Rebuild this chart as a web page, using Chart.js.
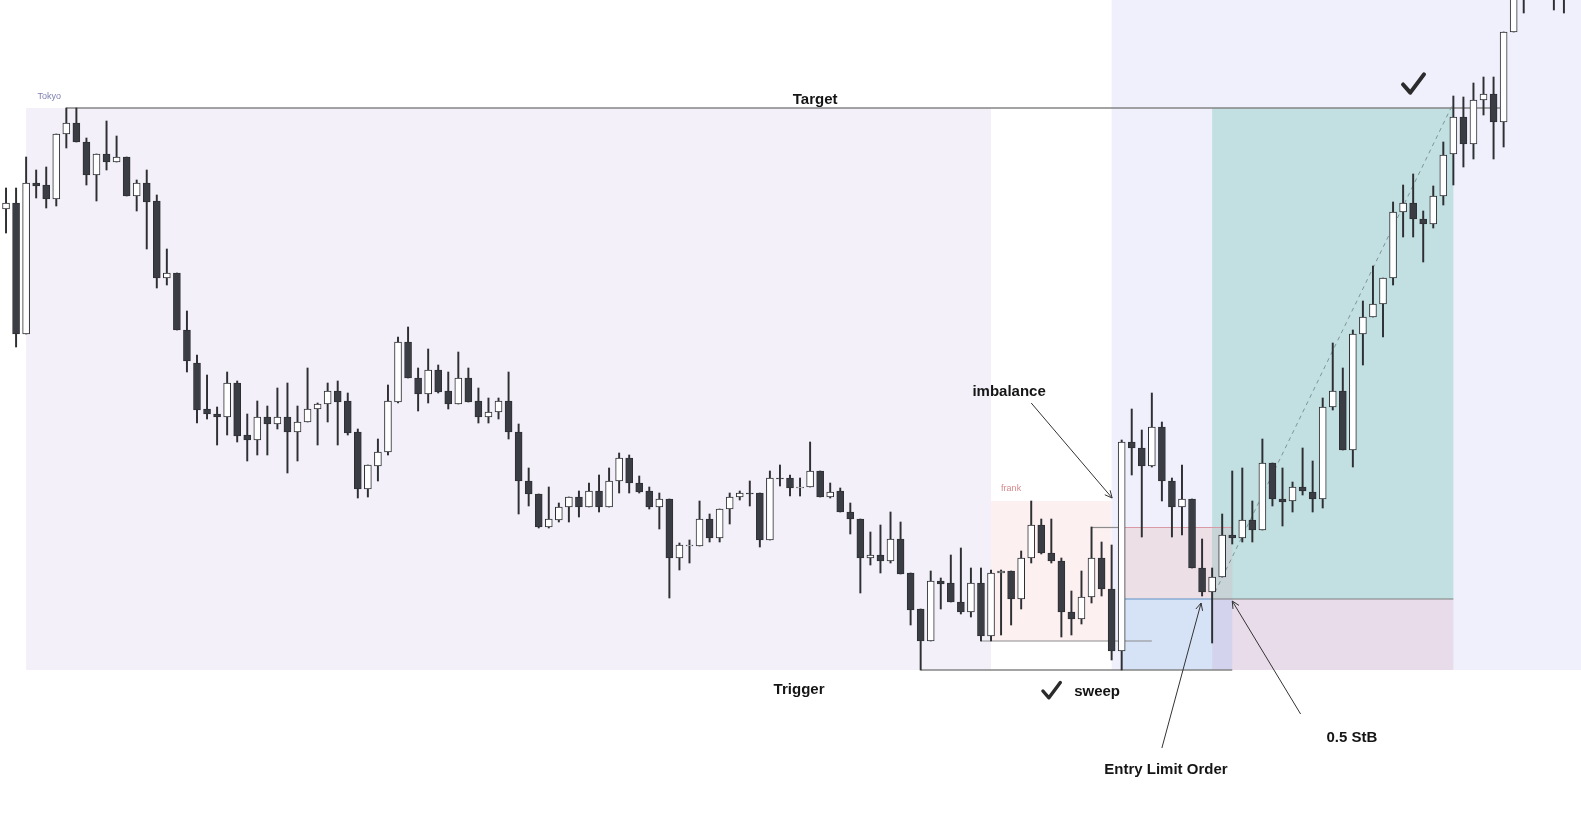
<!DOCTYPE html>
<html>
<head>
<meta charset="utf-8">
<script src="https://cdn.jsdelivr.net/npm/chart.js@4.4.0/dist/chart.umd.min.js"></script>
<style>
  html, body { margin: 0; padding: 0; background: #fff; }
  #wrap { width: 1581px; height: 824px; position: relative; }
</style>
</head>
<body>
<div id="wrap"><canvas id="myChart"></canvas></div>
<script>
// candles, in price points (one candle per slot)
const opens = [
  791, 797, 666, 817, 815, 801, 866, 877, 858, 825, 846, 838, 843, 804, 817, 799, 722, 727, 670, 637,
  591, 586, 583, 617, 565, 560, 583, 576, 583, 568, 578, 591, 596, 609, 599, 568, 511, 534, 548, 598,
  658, 622, 606, 630, 609, 596, 622, 599, 583, 588, 599, 568, 519, 506, 473, 480, 493, 503, 493, 509,
  493, 519, 542, 517, 509, 493, 501, 442, 454, 454, 481, 462, 491, 503, 507, 507, 460, 522, 522, 512,
  513, 529, 503, 509, 488, 481, 442, 445, 439, 461, 427, 391, 359, 419, 417, 398, 388, 417, 364, 427,
  429, 401, 442, 475, 447, 439, 388, 381, 403, 442, 411, 349, 558, 552, 534, 573, 519, 493, 501, 432,
  408, 423, 465, 462, 480, 470, 537, 501, 499, 513, 508, 501, 593, 609, 550, 666, 683, 696, 722, 788,
  797, 781, 776, 804, 846, 883, 856, 900, 906, 878, 968, 1010, 1040, 1060, 1040, 1012
]
const highs = [
  812, 812, 843, 830, 833, 866, 892, 892, 862, 846, 879, 864, 843, 820, 830, 805, 751, 727, 689, 645,
  625, 593, 628, 619, 586, 599, 594, 612, 617, 594, 632, 597, 617, 619, 607, 571, 535, 561, 615, 663,
  673, 632, 651, 635, 628, 648, 632, 612, 602, 602, 628, 576, 532, 506, 513, 497, 503, 509, 517, 525,
  532, 547, 545, 524, 513, 507, 501, 457, 460, 499, 486, 491, 507, 509, 519, 507, 529, 535, 525, 522,
  558, 529, 517, 512, 497, 481, 468, 475, 488, 478, 427, 391, 429, 422, 445, 452, 432, 432, 430, 430,
  429, 449, 499, 481, 481, 442, 409, 429, 473, 458, 455, 560, 591, 570, 607, 578, 522, 535, 501, 461,
  432, 486, 529, 532, 499, 561, 537, 532, 518, 552, 539, 602, 657, 632, 670, 699, 734, 722, 798, 815,
  826, 789, 814, 858, 904, 903, 917, 923, 923, 968, 1020, 1040, 1080, 1070, 1050, 1045
]
const lows = [
  767, 653, 666, 802, 792, 794, 852, 858, 815, 799, 830, 838, 804, 789, 751, 712, 715, 670, 628, 577,
  581, 555, 565, 558, 539, 545, 545, 571, 527, 539, 578, 555, 578, 555, 565, 502, 503, 519, 545, 597,
  622, 589, 597, 607, 591, 596, 598, 577, 577, 581, 561, 486, 494, 472, 472, 478, 478, 483, 493, 488,
  493, 507, 507, 507, 491, 471, 402, 430, 437, 454, 458, 458, 476, 500, 494, 453, 460, 514, 504, 504,
  513, 503, 502, 488, 466, 407, 435, 427, 437, 426, 375, 330, 359, 391, 398, 386, 383, 359, 359, 365,
  375, 391, 437, 446, 437, 363, 365, 376, 397, 404, 340, 330, 525, 463, 533, 499, 463, 465, 432, 404,
  357, 423, 456, 458, 458, 470, 494, 474, 488, 505, 488, 492, 590, 550, 533, 635, 683, 663, 715, 763,
  763, 738, 772, 795, 815, 833, 841, 885, 841, 853, 968, 987, 1025, 1020, 990, 987
]
const closes = [
  797, 666, 817, 814, 801, 866, 877, 858, 825, 846, 838, 843, 804, 817, 798, 722, 727, 670, 639, 590,
  586, 583, 617, 564, 560, 583, 576, 583, 568, 578, 591, 596, 609, 598, 567, 511, 535, 548, 599, 658,
  622, 606, 630, 608, 596, 622, 598, 583, 588, 599, 568, 519, 506, 473, 481, 493, 503, 493, 509, 493,
  519, 542, 517, 508, 493, 501, 442, 455, 455, 481, 462, 491, 503, 507, 506, 460, 522, 521, 512, 513,
  529, 503, 508, 488, 481, 442, 445, 439, 461, 426, 390, 359, 419, 416, 398, 388, 417, 364, 427, 429,
  401, 442, 475, 447, 439, 388, 381, 403, 442, 411, 349, 558, 552, 534, 573, 519, 493, 501, 432, 408,
  423, 465, 462, 480, 470, 537, 501, 498, 513, 509, 501, 593, 609, 550, 666, 683, 696, 722, 788, 797,
  781, 776, 804, 845, 883, 856, 900, 906, 878, 968, 1015, 1035, 1070, 1030, 1015, 1035
]
// one spare empty slot on the right edge
const labels = Array.from({ length: opens.length + 1 }, (_, i) => String(i + 1))

// shaded zones: slot range and price range
const zones = [
  { from: 2, to: 98, top: 892, bottom: 330, color: '#f3f0f9' },      // Tokyo
  { from: 98, to: 110, top: 499, bottom: 359, color: '#fcf0f1' },    // frank
  { from: 110, to: 160, top: 1000, bottom: 330, color: '#eff0fc' },
  { from: 111, to: 122, top: 472, bottom: 401, color: '#ecdfe6' },
  { from: 111, to: 122, top: 401, bottom: 330, color: '#d6e3f7' },
  { from: 120, to: 144, top: 892, bottom: 401, color: '#c2dfe1' },   // target
  { from: 120, to: 144, top: 401, bottom: 330, color: '#e8dcea' },   // stop
  { from: 120, to: 122, top: 472, bottom: 401, color: '#c8d3d7' },
  { from: 120, to: 122, top: 401, bottom: 330, color: '#d4d3ee' },
]
// horizontal levels
const levels = [
  { from: 6, to: 148.7, price: 892, color: '#858585', width: 1.6 },   // Target
  { from: 91, to: 122, price: 330, color: '#858585', width: 1.6 },    // Trigger
  { from: 97, to: 114, price: 359, color: '#8c8c8c', width: 1.2 },
  { from: 108, to: 111, price: 472.5, color: '#8c8c8c', width: 1.2 },
  { from: 111, to: 122, price: 472.5, color: '#d99aa6', width: 1.2 },
  { from: 111, to: 120, price: 401, color: '#5d90c5', width: 1 },
  { from: 120, to: 144, price: 401, color: '#7d7d7d', width: 1 },
]
const trend = { from: [120.3, 408], to: [144, 897] }
const arrows = [
  { from: [102, 597], to: [110.05, 502] },
  { from: [115, 252], to: [118.9, 397] },
  { from: [128.8, 286], to: [122, 399] },
]
const notes = [
  { text: 'Target', at: [80.5, 900.5], font: 'bold 15px "Liberation Sans", Arial', color: '#151515' },
  { text: 'Trigger', at: [78.9, 310.5], font: 'bold 15px "Liberation Sans", Arial', color: '#151515' },
  { text: 'sweep', at: [108.55, 308.5], font: 'bold 15px "Liberation Sans", Arial', color: '#151515' },
  { text: 'imbalance', at: [99.8, 608.5], font: 'bold 15px "Liberation Sans", Arial', color: '#151515' },
  { text: 'Entry Limit Order', at: [115.4, 230], font: 'bold 15px "Liberation Sans", Arial', color: '#151515' },
  { text: '0.5 StB', at: [133.9, 262], font: 'bold 15px "Liberation Sans", Arial', color: '#151515' },
  { text: 'Tokyo', at: [4.3, 903], font: '9px "Liberation Sans", Arial', color: '#7f80b2' },
  { text: 'frank', at: [100, 511], font: '9px "Liberation Sans", Arial', color: '#d58a8c' },
]
const checks = [
  { at: [104, 309.4], size: 20 },
  { at: [140, 916], size: 24 },
]

const drawings = {
  id: 'drawings',
  beforeDatasetsDraw(chart) {
    const { ctx, scales: { x, y } } = chart
    ctx.save()
    zones.forEach(z => {
      const x0 = x.getPixelForValue(z.from), x1 = x.getPixelForValue(z.to)
      const y0 = y.getPixelForValue(z.top), y1 = y.getPixelForValue(z.bottom)
      ctx.fillStyle = z.color
      ctx.fillRect(x0, y0, x1 - x0, y1 - y0)
    })
    levels.forEach(l => {
      const py = y.getPixelForValue(l.price)
      ctx.strokeStyle = l.color
      ctx.lineWidth = l.width
      ctx.beginPath()
      ctx.moveTo(x.getPixelForValue(l.from), py)
      ctx.lineTo(x.getPixelForValue(l.to), py)
      ctx.stroke()
    })
    ctx.setLineDash([4, 4])
    ctx.strokeStyle = '#7f9596'
    ctx.lineWidth = 1
    ctx.beginPath()
    ctx.moveTo(x.getPixelForValue(trend.from[0]), y.getPixelForValue(trend.from[1]))
    ctx.lineTo(x.getPixelForValue(trend.to[0]), y.getPixelForValue(trend.to[1]))
    ctx.stroke()
    ctx.restore()
  },
  afterDatasetsDraw(chart) {
    const { ctx, scales: { x, y } } = chart
    ctx.save()
    ctx.strokeStyle = '#333'
    ctx.lineWidth = 1
    arrows.forEach(a => {
      const x0 = x.getPixelForValue(a.from[0]), y0 = y.getPixelForValue(a.from[1])
      const x1 = x.getPixelForValue(a.to[0]), y1 = y.getPixelForValue(a.to[1])
      const ang = Math.atan2(y1 - y0, x1 - x0)
      ctx.beginPath()
      ctx.moveTo(x0, y0)
      ctx.lineTo(x1, y1)
      ctx.moveTo(x1 - 8 * Math.cos(ang - 0.45), y1 - 8 * Math.sin(ang - 0.45))
      ctx.lineTo(x1, y1)
      ctx.lineTo(x1 - 8 * Math.cos(ang + 0.45), y1 - 8 * Math.sin(ang + 0.45))
      ctx.stroke()
    })
    ctx.textAlign = 'center'
    ctx.textBaseline = 'middle'
    notes.forEach(n => {
      ctx.font = n.font
      ctx.fillStyle = n.color
      ctx.fillText(n.text, x.getPixelForValue(n.at[0]), y.getPixelForValue(n.at[1]))
    })
    ctx.strokeStyle = '#2b2b2b'
    ctx.lineCap = 'round'
    ctx.lineJoin = 'round'
    checks.forEach(c => {
      const cx = x.getPixelForValue(c.at[0]), cy = y.getPixelForValue(c.at[1]), s = c.size
      ctx.lineWidth = s * 0.17
      ctx.beginPath()
      ctx.moveTo(cx - 0.42 * s, cy + 0.02 * s)
      ctx.lineTo(cx - 0.12 * s, cy + 0.36 * s)
      ctx.lineTo(cx + 0.45 * s, cy - 0.4 * s)
      ctx.stroke()
    })
    ctx.restore()
  }
}

const ctx = document.getElementById('myChart').getContext('2d')
const myChart = new Chart(ctx, {
  type: 'bar',
  data: {
    labels: labels,
    datasets: [
      {
        label: 'body',
        data: opens.map((o, i) => [o, closes[i]]),
        backgroundColor: opens.map((o, i) => (closes[i] >= o ? '#ffffff' : '#3b3d45')),
        borderColor: '#2e2f33',
        borderWidth: 1,
        borderSkipped: false,
        barThickness: 7,
        grouped: false,
      },
      {
        label: 'wick',
        data: lows.map((l, i) => [l, highs[i]]),
        backgroundColor: '#2e2f33',
        borderWidth: 0,
        barThickness: 1.3,
        grouped: false,
      },
    ],
  },
  options: {
    responsive: true,
    maintainAspectRatio: false,
    animation: false,
    events: [],
    layout: { padding: { left: 1, right: 2, top: 0, bottom: 0 } },
    plugins: { legend: { display: false }, tooltip: { enabled: false } },
    scales: {
      x: { display: false, offset: true },
      y: { display: false, min: 176, max: 1000 },
    },
  },
  plugins: [drawings],
})
</script>
</body>
</html>
